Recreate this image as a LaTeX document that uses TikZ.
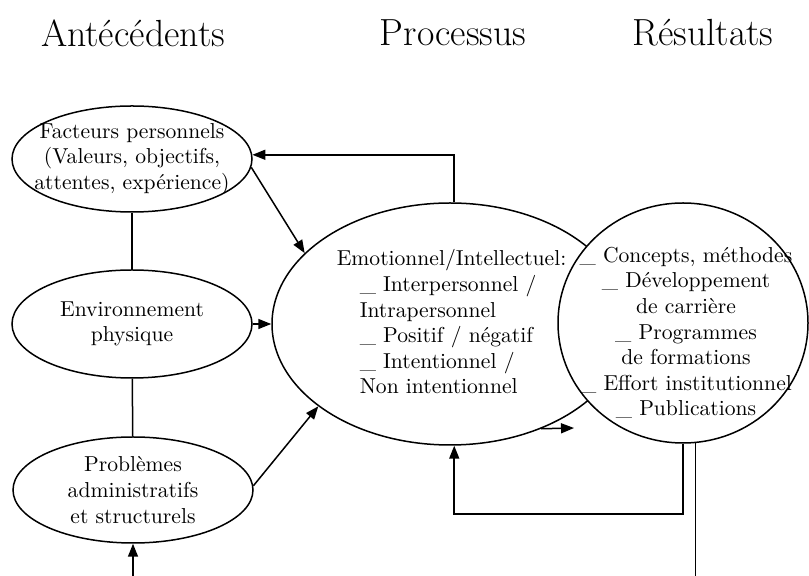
\documentclass[tikz,border=0pt]{standalone}
\usetikzlibrary{shapes.geometric,arrows.meta}

\begin{document}
\begin{tikzpicture}[x=0.5pt, y=-0.5pt, line width=0.75pt,
  ell/.style={draw, ellipse, inner sep=0pt, fill=white},
  lbl/.style={align=center, inner sep=0pt, font=\fontsize{10.8}{12.8}\selectfont},
  head/.style={font=\fontsize{18.9}{22}\selectfont},
  arr/.style={-{Triangle[length=6.5pt,width=5pt]}}]
  \useasboundingbox (0,0) rectangle (809,576);
  \node[head] (h-ant) at (133,33) {Antécédents};
  \node[head] (h-proc) at (453,33) {Processus};
  \node[head] (h-res) at (703,33) {Résultats};

  \node[ell, minimum width=120pt, minimum height=53pt] (fact) at (132,159) {};
  \node[ell, minimum width=120pt, minimum height=54pt] (env) at (132,324) {};
  \node[ell, minimum width=120pt, minimum height=53pt] (prob) at (133,490) {};
  \node[lbl] (fact-t) at (fact) {Facteurs personnels\\(Valeurs, objectifs,\\attentes, expérience)};
  \node[lbl] (env-t) at (env) {Environnement\\physique};
  \node[lbl] (prob-t) at (prob) {Problèmes\\administratifs\\et structurels};

  \node[ell, minimum width=178pt, minimum height=121pt] (proc) at (450,324) {};
  \node[lbl, align=left, anchor=west] (proc-t) at (359,322)
    {\hspace*{-11.5pt}Emotionnel/Intellectuel:\\\_ Interpersonnel /\\Intrapersonnel\\\_ Positif / négatif\\\_ Intentionnel /\\Non intentionnel};
  \node[ell, minimum width=125pt, minimum height=120pt] (res) at (683,323) {};
  \node[lbl] (res-t) at (686,333)
    {\_ Concepts, méthodes\\\_ Développement\\de carrière\\\_ Programmes\\de formations\\\_ Effort institutionnel\\\_ Publications};

  \coordinate (fb) at (453,514);
  \coordinate (out) at (697,576);
  \coordinate (in) at (133,576);
  \coordinate (dang) at (574,428);

  \draw (fact) -- (env);
  \draw (env) -- (prob);
  \draw[arr] (fact.-4) -- (proc.154);
  \draw[arr] (env.east) -- (proc.west);
  \draw[arr] (prob.2) -- (proc.212);
  \draw[arr] (proc.88) |- (fact.2);
  \draw[arr] (proc.-49) -- (dang);
  \draw[arr] (res.south) |- (fb -| proc.-88) -- (proc.-88);
  \draw (res.-84) -- (res.-84 |- out);
  \draw[arr] (in) -- (prob.south);
\end{tikzpicture}
\end{document}
